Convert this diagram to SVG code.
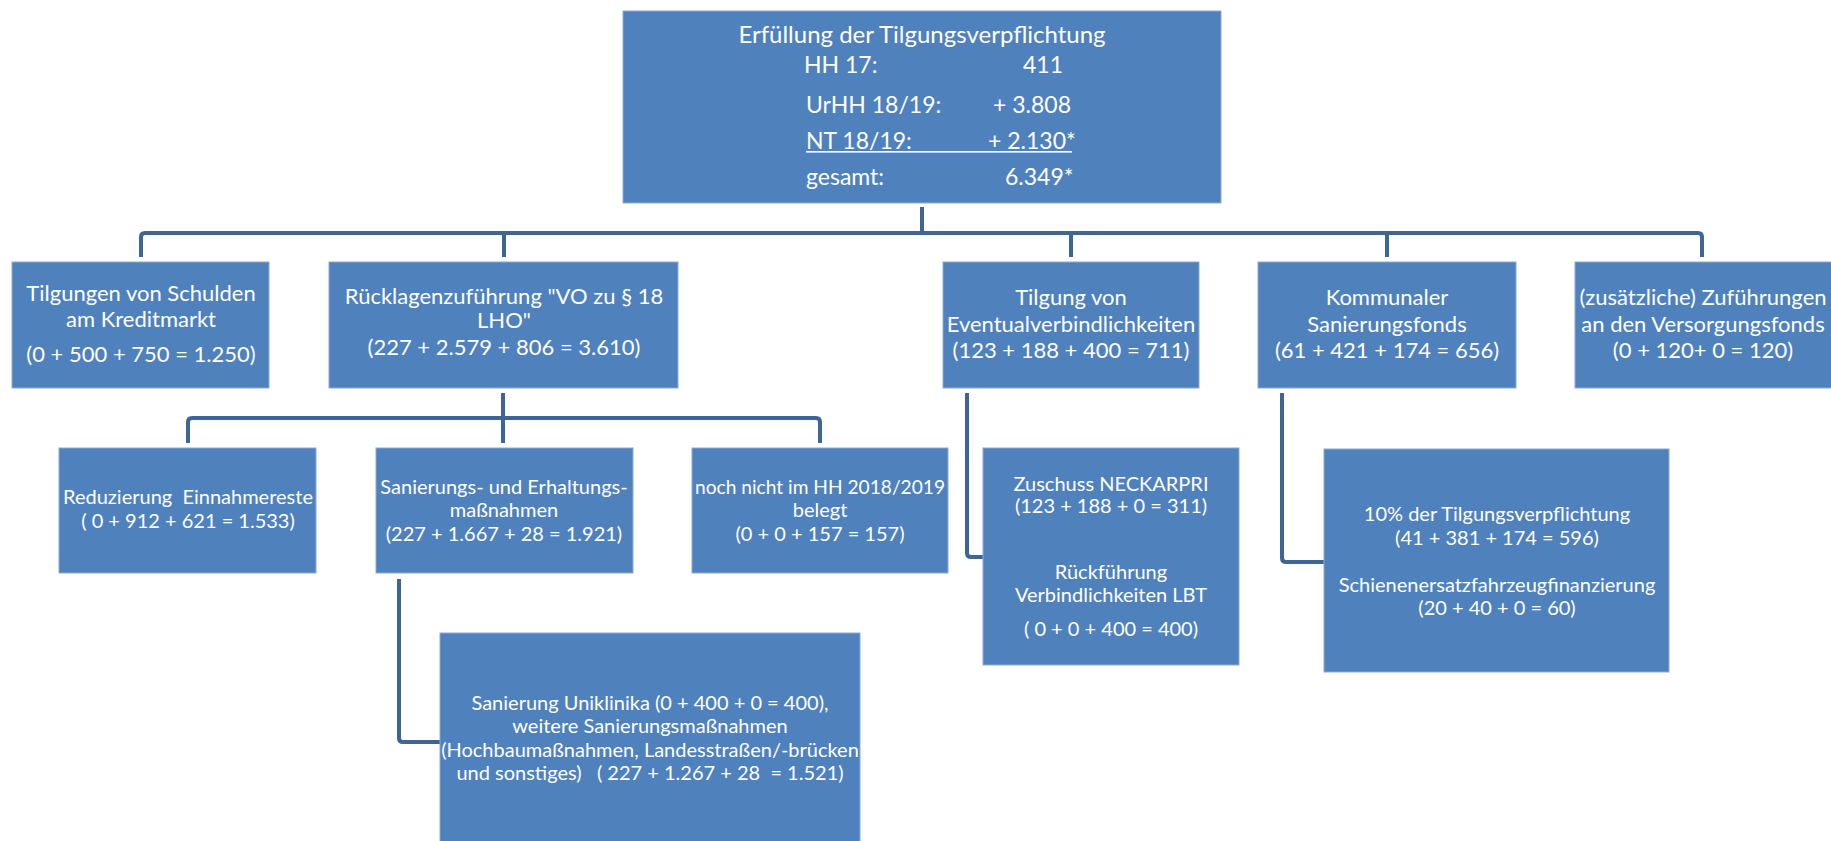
<svg xmlns="http://www.w3.org/2000/svg" width="1831" height="841" viewBox="0 0 1831 841">
<style>
.box{fill:#4f81bd;stroke:#8eaad6;stroke-width:1}
.conn{fill:none;stroke:#3d6596;stroke-width:4;stroke-linejoin:round}
text{font-family:Lato,"Open Sans","Liberation Sans",sans-serif;fill:#ffffff}
.t1{font-size:22px;text-anchor:middle}
.t2{font-size:20px;text-anchor:middle}
.tt{font-size:23px}
</style>
<rect width="1831" height="841" fill="#ffffff"/>
<g id="connectors">
<path class="conn" d="M922,207 V233"/>
<path class="conn" d="M141,257 V237 Q141,233 145,233 H1698 Q1702,233 1702,237 V257"/>
<path class="conn" d="M504,233 V257 M1071,233 V257 M1387,233 V257"/>
<path class="conn" d="M503,393 V443"/>
<path class="conn" d="M188,443 V422 Q188,418 192,418 H816 Q820,418 820,422 V443"/>
<path class="conn" d="M399,579 V738 Q399,742 403,742 H440"/>
<path class="conn" d="M967,393 V553 Q967,557 971,557 H983"/>
<path class="conn" d="M1282,393 V558 Q1282,562 1286,562 H1324"/>
</g>
<g id="top">
<rect class="box" x="623" y="11" width="598" height="192"/>
<text x="922" y="43" text-anchor="middle" style="font-size:24px">Erfüllung der Tilgungsverpflichtung</text>
<text class="tt" x="804" y="73">HH 17:</text>
<text class="tt" x="1023" y="73">411</text>
<text class="tt" x="806" y="113">UrHH 18/19:</text>
<text class="tt" x="993" y="113">+ 3.808</text>
<text class="tt" x="806" y="149">NT 18/19:</text>
<text class="tt" x="988" y="149">+ 2.130*</text>
<rect x="806" y="151" width="266" height="1.6" fill="#ffffff"/>
<text class="tt" x="806" y="185">gesamt:</text>
<text class="tt" x="1005" y="185">6.349*</text>
</g>
<g id="nodeA">
<rect class="box" x="12" y="262" width="257" height="126"/>
<text class="t1" x="141" y="301">Tilgungen von Schulden</text>
<text class="t1" x="141" y="327">am Kreditmarkt</text>
<text class="t1" x="141" y="362">(0 + 500 + 750 = 1.250)</text>
</g>
<g id="nodeB">
<rect class="box" x="329" y="262" width="349" height="126"/>
<text class="t1" x="504" y="304">Rücklagenzuführung "VO zu § 18</text>
<text class="t1" x="504" y="328">LHO"</text>
<text class="t1" x="504" y="355">(227 + 2.579 + 806 = 3.610)</text>
</g>
<g id="nodeC">
<rect class="box" x="943" y="262" width="256" height="126"/>
<text class="t1" x="1071" y="305">Tilgung von</text>
<text class="t1" x="1071" y="332">Eventualverbindlichkeiten</text>
<text class="t1" x="1071" y="358">(123 + 188 + 400 = 711)</text>
</g>
<g id="nodeD">
<rect class="box" x="1258" y="262" width="258" height="126"/>
<text class="t1" x="1387" y="305">Kommunaler</text>
<text class="t1" x="1387" y="332">Sanierungsfonds</text>
<text class="t1" x="1387" y="358">(61 + 421 + 174 = 656)</text>
</g>
<g id="nodeE">
<rect class="box" x="1575" y="262" width="260" height="126"/>
<text class="t1" x="1703" y="305">(zusätzliche) Zuführungen</text>
<text class="t1" x="1703" y="332">an den Versorgungsfonds</text>
<text class="t1" x="1703" y="358">(0 + 120+ 0 = 120)</text>
</g>
<g id="nodeReduzierung">
<rect class="box" x="59" y="448" width="257" height="125"/>
<text class="t2" x="188" y="504" xml:space="preserve">Reduzierung  Einnahmereste</text>
<text class="t2" x="188" y="528">( 0 + 912 + 621 = 1.533)</text>
</g>
<g id="nodeSanierungs">
<rect class="box" x="376" y="448" width="257" height="125"/>
<text class="t2" x="504" y="494">Sanierungs- und Erhaltungs-</text>
<text class="t2" x="504" y="517">maßnahmen</text>
<text class="t2" x="504" y="541">(227 + 1.667 + 28 = 1.921)</text>
</g>
<g id="nodeNochNicht">
<rect class="box" x="692" y="448" width="256" height="125"/>
<text class="t2" x="820" y="494" textLength="250" lengthAdjust="spacingAndGlyphs">noch nicht im HH 2018/2019</text>
<text class="t2" x="820" y="517">belegt</text>
<text class="t2" x="820" y="541">(0 + 0 + 157 = 157)</text>
</g>
<g id="nodeUniklinika">
<rect class="box" x="440" y="633" width="420" height="215"/>
<text class="t2" x="650" y="710">Sanierung Uniklinika (0 + 400 + 0 = 400),</text>
<text class="t2" x="650" y="733">weitere Sanierungsmaßnahmen</text>
<text class="t2" x="650" y="757">(Hochbaumaßnahmen, Landesstraßen/-brücken</text>
<text class="t2" x="650" y="780" xml:space="preserve">und sonstiges)   ( 227 + 1.267 + 28  = 1.521)</text>
</g>
<g id="nodeZuschuss">
<rect class="box" x="983" y="448" width="256" height="217"/>
<text class="t2" x="1111" y="491">Zuschuss NECKARPRI</text>
<text class="t2" x="1111" y="513">(123 + 188 + 0 = 311)</text>
<text class="t2" x="1111" y="579">Rückführung</text>
<text class="t2" x="1111" y="602">Verbindlichkeiten LBT</text>
<text class="t2" x="1111" y="636">( 0 + 0 + 400 = 400)</text>
</g>
<g id="nodeZehnProzent">
<rect class="box" x="1324" y="449" width="345" height="223"/>
<text class="t2" x="1497" y="521">10% der Tilgungsverpflichtung</text>
<text class="t2" x="1497" y="545">(41 + 381 + 174 = 596)</text>
<text class="t2" x="1497" y="592">Schienenersatzfahrzeugfinanzierung</text>
<text class="t2" x="1497" y="615">(20 + 40 + 0 = 60)</text>
</g>
</svg>
